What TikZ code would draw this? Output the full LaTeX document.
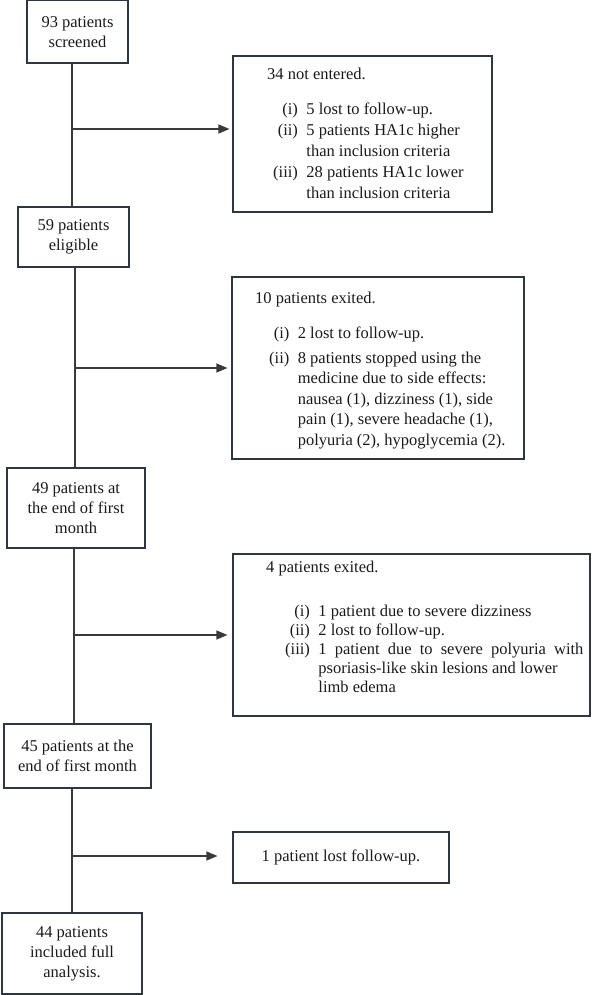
\documentclass[tikz,border=0pt]{standalone}
\usepackage{fontspec}
\setmainfont{Liberation Serif}
\usetikzlibrary{arrows.meta}
\definecolor{edge}{HTML}{3A3A3A}
\definecolor{frame}{HTML}{2E3640}
\definecolor{ink}{HTML}{1A1A1A}
\newcommand\itemlist[2]{{\fontsize{16.5}{#1}\selectfont\begin{tabular}[t]{@{}r@{\hspace{8.5pt}}l@{}}#2\end{tabular}}}
\begin{document}
\begin{tikzpicture}[x=1pt,y=-1pt,
  every node/.style={font=\fontsize{16.5}{20}\selectfont, text=ink},
  box/.style={draw=frame, line width=1.1pt, inner sep=0pt, align=center},
  txt/.style={anchor=base west, inner sep=0pt, align=left},
  trunk/.style={draw=edge, line width=1.1pt},
  arr/.style={draw=edge, line width=1.1pt, -{Triangle[length=11pt,width=9pt]}, shorten >=3pt}]
\useasboundingbox (0,0) rectangle (592,995);

% main column boxes
\node[box, minimum width=101pt, minimum height=62.4pt] (b1) at (77.5,31.8) {93 patients\\screened};
\node[box, minimum width=111pt, minimum height=60pt] (b3) at (73.5,237) {59 patients\\eligible};
\node[box, minimum width=138pt, minimum height=80pt] (b5) at (76,508) {49 patients at\\the end of first\\month};
\node[box, minimum width=147pt, minimum height=64pt] (b7) at (77.5,756) {45 patients at the\\end of first month};
\node[box, minimum width=140pt, minimum height=81pt] (b9) at (72,953.5) {44 patients\\included full\\analysis.};

% side boxes
\node[box, minimum width=259pt, minimum height=156pt] (b2) at (362.5,134) {};
\node[box, minimum width=292pt, minimum height=182pt] (b4) at (378,368) {};
\node[box, minimum width=357pt, minimum height=162pt] (b6) at (411.5,635) {};
\node[box, minimum width=216pt, minimum height=51pt] (b8) at (341,857.5) {1 patient lost follow-up.};

% side box texts
\node[txt] (h2) at (267,80) {34 not entered.};
\node[txt] (l2) at (273,115) {\itemlist{21pt}{(i) & 5 lost to follow-up.\\ (ii) & 5 patients HA1c higher\\ & than inclusion criteria\\ (iii) & 28 patients HA1c lower\\ & than inclusion criteria}};

\node[txt] (h4) at (255,303) {10 patients exited.};
\node[txt] (l4) at (269,338) {\itemlist{20.5pt}{(i) & 2 lost to follow-up.\\[4.5pt] (ii) & 8 patients stopped using the\\ & medicine due to side effects:\\ & nausea (1), dizziness (1), side\\ & pain (1), severe headache (1),\\ & polyuria (2), hypoglycemia (2).}};

\node[txt] (h6) at (266,572) {4 patients exited.};
\node[txt] (l6) at (285,616) {\itemlist{19pt}{(i) & 1 patient due to severe dizziness\\ (ii) & 2 lost to follow-up.\\ (iii) & \makebox[265pt][s]{1 patient due to severe polyuria with}\\ & psoriasis-like skin lesions and lower\\ & limb edema}};

% junctions
\coordinate (j1) at (72,129);
\coordinate (j2) at (75,368);
\coordinate (j3) at (74,635);
\coordinate (j4) at (72,856);

\draw[trunk] (b1.south -| j1) -- (b3.north -| j1);
\draw[arr] (j1) -- (b2.west |- j1);
\draw[trunk] (b3.south -| j2) -- (b5.north -| j2);
\draw[arr, shorten >=4pt] (j2) -- (b4.west |- j2);
\draw[trunk] (b5.south -| j3) -- (b7.north -| j3);
\draw[arr, shorten >=5pt] (j3) -- (b6.west |- j3);
\draw[trunk] (b7.south -| j4) -- (b9.north -| j4);
\draw[arr, shorten >=15pt] (j4) -- (b8.west |- j4);
\end{tikzpicture}
\end{document}
